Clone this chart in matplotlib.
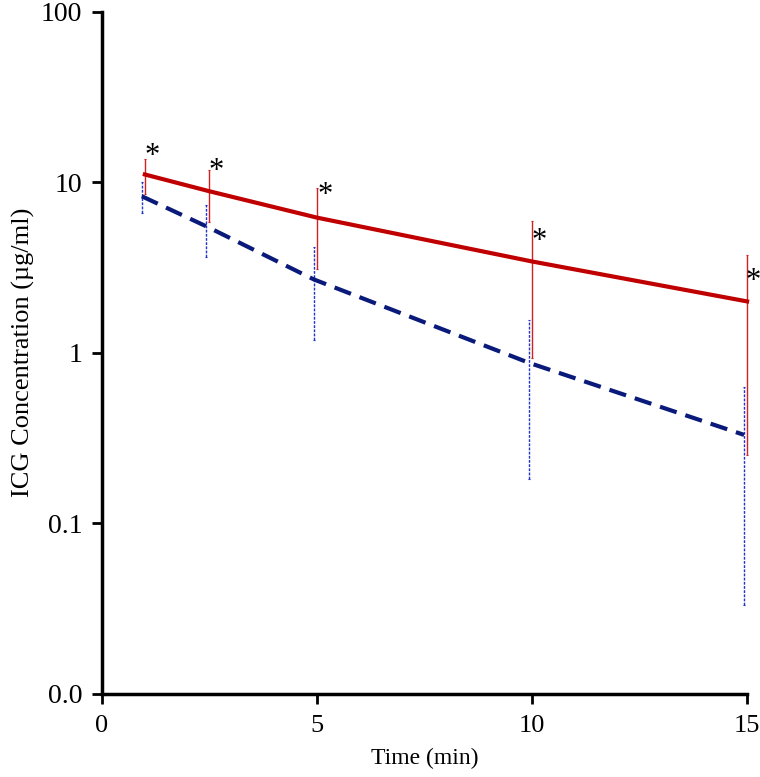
import matplotlib.pyplot as plt
from matplotlib.ticker import FixedLocator, FixedFormatter, NullLocator

plt.rcParams["font.family"] = ["Liberation Serif", "DejaVu Serif"]

# values
time = [1, 2.5, 5, 10, 15]
red_mean = [11.1, 8.85, 6.2, 3.43, 2.0]
red_sd = [2.6, 3.0, 3.1, 2.5, 1.75]
blue_time = [0.93, 2.43, 4.93, 9.93, 14.93]
blue_mean = [8.27, 5.51, 2.69, 0.873, 0.33]
blue_sd = [1.7, 1.85, 1.5, 0.69, 0.297]
# where the significance marks sit
star_time = [1.16, 2.66, 5.18, 10.17, 15.14]
star_y = [14.2, 11.6, 8.4, 4.5, 2.6]

y_ticks = [0.01, 0.1, 1, 10, 100]
y_labels = ["0.0", "0.1", "1", "10", "100"]
x_ticks = [0, 5, 10, 15]

fig = plt.figure(figsize=(7.6, 7.77), dpi=100)
ax = fig.add_axes([0.134, 0.107, 0.849, 0.878])

ax.errorbar(time, red_mean, yerr=red_sd, color="#c00000", lw=3, ecolor="#d42020",
            elinewidth=1, capsize=1, capthick=0.8, clip_on=False, zorder=3)
eb = ax.errorbar(blue_time, blue_mean, yerr=blue_sd, color="#0a1a7a", lw=3, ls=(0, (4.2, 2.2)),
                 ecolor="#2233cc", elinewidth=1, capsize=1, capthick=0.8, clip_on=False, zorder=2)
for col in eb[2]:
    col.set_linestyle((0, (2, 1)))

for x, y in zip(star_time, star_y):
    ax.text(x, y, "*", fontsize=22, ha="center", va="center", color="black")

ax.set_yscale("log")
ax.set_ylim(0.01, 100)
ax.set_xlim(0, 15)
ax.yaxis.set_major_locator(FixedLocator(y_ticks))
ax.yaxis.set_major_formatter(FixedFormatter(y_labels))
ax.yaxis.set_minor_locator(NullLocator())
ax.set_xticks(x_ticks)

for side in ["top", "right"]:
    ax.spines[side].set_visible(False)
for side in ["left", "bottom"]:
    ax.spines[side].set_linewidth(2.5)

ax.tick_params(axis="both", which="major", length=7, width=2, labelsize=19)
ax.tick_params(axis="y", labelsize=20, pad=7)
ax.tick_params(axis="x", pad=8)
ax.set_xlabel("Time (min)", fontsize=17, labelpad=8)
ax.set_ylabel("ICG Concentration (µg/ml)", fontsize=19, labelpad=4)

fig.savefig("out.png", dpi=100)
